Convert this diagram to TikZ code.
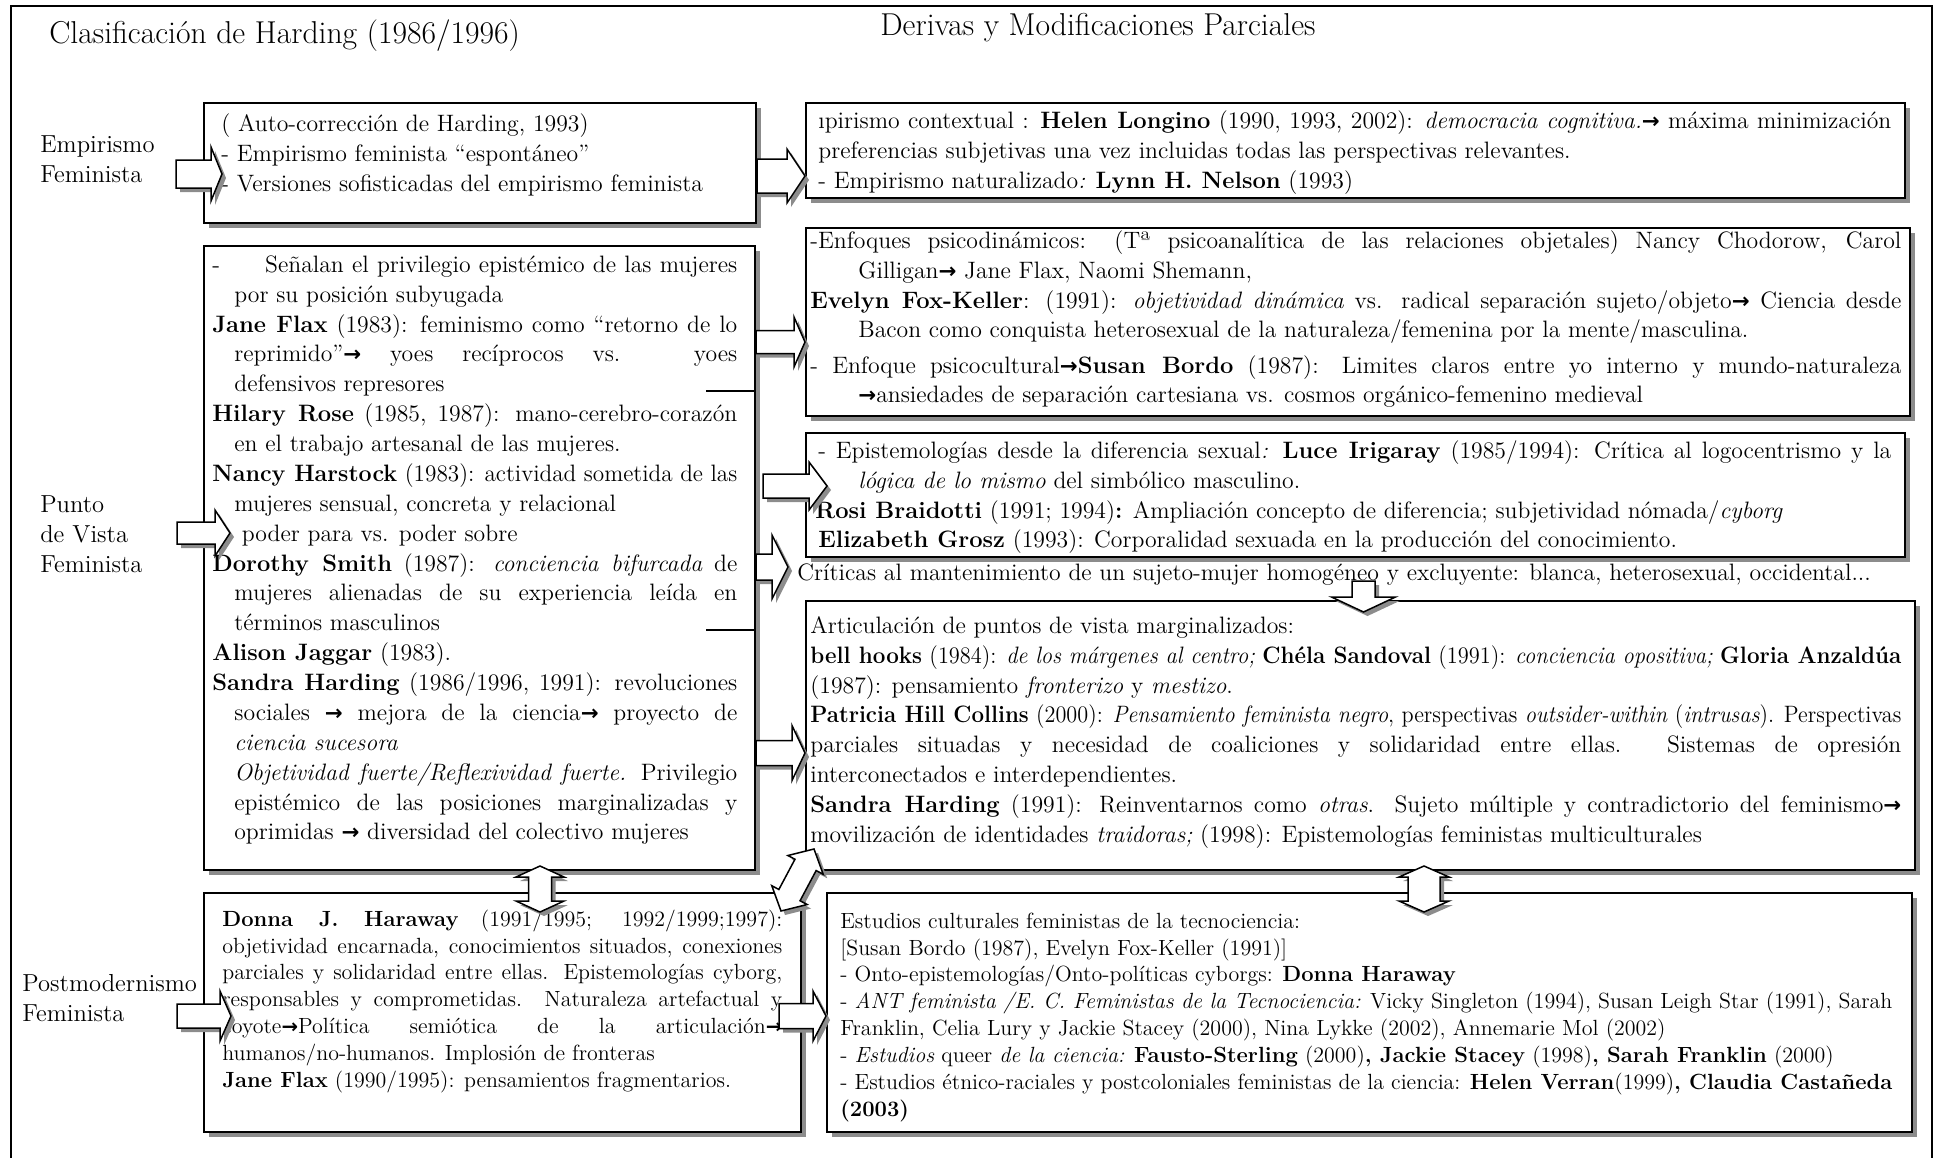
\documentclass[tikz,border=0pt]{standalone}
\usepackage{fontspec}
\usepackage{graphicx}
\newfontfamily\symf[Scale=0.9]{DejaVu Sans}
\usetikzlibrary{calc,fit,shadows}

\newlength{\hangw}
\newlength{\linew}
\newsavebox{\linebox}
\newcommand{\rarr}{{\symf\bfseries\char"2192}}
\newcommand{\fitline}[3]{%
  \sbox{\linebox}{#3}\linew=\hsize \advance\linew by -#1\relax
  \ifdim\wd\linebox>\linew
    \hbox to\hsize{\strut\kern#1\relax\resizebox{\linew}{\height}{\usebox{\linebox}}}%
  \else
    \hbox to\hsize{\strut\kern#1\relax#3#2}%
  \fi}
\newcommand{\jline}[1]{\fitline{0pt}{}{#1}}
\newcommand{\rline}[1]{\fitline{0pt}{\hfil}{#1}}
\newcommand{\jhang}[1]{\fitline{\hangw}{}{#1}}
\newcommand{\rhang}[1]{\fitline{\hangw}{\hfil}{#1}}
\newcommand{\textblock}[3]{\vtop{\hsize=#1\relax\setlength{\hangw}{#2}#3}}

\newcommand{\arrshape}[5]{($(#1)!#4!90:(#2)$) -- ($(#3)!#4!90:(#2)$) -- ($(#3)!#5!90:(#2)$) -- (#2) -- ($(#3)!#5!-90:(#2)$) -- ($(#3)!#4!-90:(#2)$) -- ($(#1)!#4!-90:(#2)$) -- cycle}
\newcommand{\dshape}[6]{(#1) -- ($(#3)!#6!90:(#2)$) -- ($(#3)!#5!90:(#2)$) -- ($(#4)!#5!-90:(#1)$) -- ($(#4)!#6!-90:(#1)$) -- (#2) -- ($(#4)!#6!90:(#1)$) -- ($(#4)!#5!90:(#1)$) -- ($(#3)!#5!-90:(#2)$) -- ($(#3)!#6!-90:(#2)$) -- cycle}
\newcommand{\sarrow}[5]{%
  \coordinate (ta) at #1; \coordinate (tb) at #2; \coordinate (tc) at ($(tb)!#5!(ta)$);
  \begin{scope}[transform canvas={shift={(0.8mm,-0.8mm)}}]\fill[arrshadow] \arrshape{ta}{tb}{tc}{#3}{#4};\end{scope}
  \draw[blockarrow] \arrshape{ta}{tb}{tc}{#3}{#4};}
\newcommand{\darrow}[5]{%
  \coordinate (da) at #1; \coordinate (db) at #2;
  \coordinate (dc) at ($(da)!#5!(db)$); \coordinate (dd) at ($(db)!#5!(da)$);
  \begin{scope}[transform canvas={shift={(0.8mm,-0.8mm)}}]\fill[arrshadow] \dshape{da}{db}{dc}{dd}{#3}{#4};\end{scope}
  \draw[blockarrow] \dshape{da}{db}{dc}{dd}{#3}{#4};}

\begin{document}
\begin{tikzpicture}[x=0.2mm, y=-0.2mm,
    box/.style={draw, line width=0.4mm, fill=white, inner sep=0pt, drop shadow={shadow xshift=1mm, shadow yshift=-1mm, fill=gray!90, opacity=1}},
    txt/.style={anchor=north west, inner sep=0pt, font=\fontsize{13.5}{17}\selectfont},
    smalltxt/.style={anchor=north west, inner sep=0pt, font=\fontsize{12.5}{15.3}\selectfont},
    lab/.style={anchor=west, align=left, inner sep=0pt, font=\fontsize{14}{17}\selectfont},
    heading/.style={anchor=west, inner sep=0pt, font=\fontsize{18}{21}\selectfont},
    blockarrow/.style={draw, line width=0.3mm, fill=white},
    arrshadow/.style={fill=gray!90},
]
    \useasboundingbox (0,0) rectangle (1939,1157);
    \draw[line width=0.4mm] (11,1180) -- (11,6) -- (1932,6) -- (1932,1180);

    \node[heading] (ttl) at (49,36) {Clasificación de Harding (1986/1996)};
    \node[heading] (ttr) at (880,28) {Derivas y Modificaciones Parciales};

    \node[lab] (empL) at (40,159) {Empirismo\\Feminista};
    \node[lab] (pvL) at (40,534) {Punto\\de Vista\\Feminista};
    \node[lab] (pmL) at (22,998) {Postmodernismo\\Feminista};

    \node[box, fit={(204,103) (756,223)}] (empA) {};
    \node[box, fit={(806,103) (1905,198)}] (empB) {};
    \node[box, fit={(204,246) (755,870)}] (pvA) {};
    \node[box, fit={(806,228) (1910,416)}] (pvC) {};
    \node[box, fit={(806,433) (1905,557)}] (pvD) {};
    \node[box, fit={(806,601) (1915,870)}] (pvE) {};
    \node[box, fit={(204,893) (801,1132)}] (pmG) {};
    \node[box, fit={(827,893) (1912,1132)}] (pmF) {};

    \node[txt] (empAt) at ($(empA.north west)+(18,8)$) {\textblock{104mm}{0mm}{%
      \rline{( Auto-corrección de Harding, 1993)}
      \rline{- Empirismo feminista “espontáneo”}
      \rline{- Versiones sofisticadas del empirismo feminista}}};

    \node[txt] (empBt) at ($(empB.north west)+(13,5)$) {\textblock{214.6mm}{0mm}{%
      \jline{ıpirismo contextual : \textbf{Helen Longino} (1990, 1993, 2002): \textit{democracia cognitiva.}\rarr{} máxima minimización}
      \rline{preferencias subjetivas una vez incluidas todas las perspectivas relevantes.}
      \rline{- Empirismo naturalizado\textit{:} \textbf{Lynn H. Nelson} (1993)}}};

    \node[txt] (pvAt) at ($(pvA.north west)+(9,6)$) {\textblock{105mm}{4.4mm}{%
      \jline{-\hspace{1.9em}Señalan el privilegio epistémico de las mujeres}
      \rhang{por su posición subyugada}
      \jline{\textbf{Jane Flax} (1983): feminismo como “retorno de lo}
      \jhang{reprimido”\rarr{} yoes recíprocos vs. yoes}
      \rhang{defensivos represores}
      \jline{\textbf{Hilary Rose} (1985, 1987): mano-cerebro-corazón}
      \rhang{en el trabajo artesanal de las mujeres.}
      \jline{\textbf{Nancy Harstock} (1983): actividad sometida de las}
      \rhang{mujeres sensual, concreta y relacional}
      \rhang{\kern1.5mm poder para vs. poder sobre}
      \jline{\textbf{Dorothy Smith} (1987): \textit{conciencia bifurcada} de}
      \jhang{mujeres alienadas de su experiencia leída en}
      \rhang{términos masculinos}
      \rline{\textbf{Alison Jaggar} (1983).}
      \jline{\textbf{Sandra Harding} (1986/1996, 1991): revoluciones}
      \jhang{sociales \rarr{} mejora de la ciencia\rarr{} proyecto de}
      \rhang{\textit{ciencia sucesora}}
      \jhang{\textit{Objetividad fuerte/Reflexividad fuerte.} Privilegio}
      \jhang{epistémico de las posiciones marginalizadas y}
      \rhang{oprimidas \rarr{} diversidad del colectivo mujeres}}};

    \node[txt] (pvCt) at ($(pvC.north west)+(5,0)$) {\textblock{218.2mm}{9.6mm}{%
      \jline{-Enfoques psicodinámicos: (Tª psicoanalítica de las relaciones objetales) Nancy Chodorow, Carol}
      \rhang{Gilligan\rarr{} Jane Flax, Naomi Shemann,}
      \jline{\textbf{Evelyn Fox-Keller}: (1991): \textit{objetividad dinámica} vs. radical separación sujeto/objeto\rarr{} Ciencia desde}
      \rhang{Bacon como conquista heterosexual de la naturaleza/femenina por la mente/masculina.}
      \vskip 3pt
      \jline{- Enfoque psicocultural\rarr\textbf{Susan Bordo} (1987): Limites claros entre yo interno y mundo-naturaleza}
      \rhang{\rarr ansiedades de separación cartesiana vs. cosmos orgánico-femenino medieval}}};

    \node[txt] (pvDt) at ($(pvD.north west)+(13,5)$) {\textblock{214.6mm}{8mm}{%
      \jline{- Epistemologías desde la diferencia sexual\textit{:} \textbf{Luce Irigaray} (1985/1994): Crítica al logocentrismo y la}
      \rhang{\textit{lógica de lo mismo} del simbólico masculino.}
      \rline{\kern-0.6mm\textbf{Rosi Braidotti} (1991; 1994)\textbf{:} Ampliación concepto de diferencia; subjetividad nómada/\textit{cyborg}}
      \rline{\textbf{Elizabeth Grosz} (1993): Corporalidad sexuada en la producción del conocimiento.}}};

    \node[txt, anchor=west] (crit) at (797,575) {Críticas al mantenimiento de un sujeto-mujer homogéneo y excluyente: blanca, heterosexual, occidental...};

    \node[txt] (pvEt) at ($(pvE.north west)+(5,12)$) {\textblock{218.2mm}{0mm}{%
      \rline{Articulación de puntos de vista marginalizados:}
      \jline{\textbf{bell hooks} (1984): \textit{de los márgenes al centro;} \textbf{Chéla Sandoval} (1991): \textit{conciencia opositiva;} \textbf{Gloria Anzaldúa}}
      \rline{(1987): pensamiento \textit{fronterizo} y \textit{mestizo}.}
      \jline{\textbf{Patricia Hill Collins} (2000): \textit{Pensamiento feminista negro}, perspectivas \textit{outsider-within} (\textit{intrusas}). Perspectivas}
      \jline{parciales situadas y necesidad de coaliciones y solidaridad entre ellas. Sistemas de opresión}
      \rline{interconectados e interdependientes.}
      \jline{\textbf{Sandra Harding} (1991): Reinventarnos como \textit{otras}. Sujeto múltiple y contradictorio del feminismo\rarr}
      \rline{movilización de identidades \textit{traidoras;} (1998): Epistemologías feministas multiculturales}}};

    \node[smalltxt] (pmGt) at ($(pmG.north west)+(19,15)$) {\textblock{112mm}{0mm}{%
      \jline{\textbf{Donna J. Haraway} (1991/1995; 1992/1999;1997):}
      \jline{objetividad encarnada, conocimientos situados, conexiones}
      \jline{parciales y solidaridad entre ellas. Epistemologías cyborg,}
      \jline{responsables y comprometidas. Naturaleza artefactual y}
      \jline{coyote\rarr Política semiótica de la articulación\rarr}
      \rline{humanos/no-humanos. Implosión de fronteras}
      \rline{\textbf{Jane Flax} (1990/1995): pensamientos fragmentarios.}}};

    \node[smalltxt] (pmFt) at ($(pmF.north west)+(14,17)$) {\textblock{210.4mm}{0mm}{%
      \rline{Estudios culturales feministas de la tecnociencia:}
      \rline{[Susan Bordo (1987), Evelyn Fox-Keller (1991)]}
      \rline{- Onto-epistemologías/Onto-políticas cyborgs: \textbf{Donna Haraway}}
      \jline{- \textit{ANT feminista /E. C. Feministas de la Tecnociencia:} Vicky Singleton (1994), Susan Leigh Star (1991), Sarah}
      \rline{Franklin, Celia Lury y Jackie Stacey (2000), Nina Lykke (2002), Annemarie Mol (2002)}
      \rline{- \textit{Estudios} queer \textit{de la ciencia:} \textbf{Fausto-Sterling} (2000)\textbf{, Jackie Stacey} (1998)\textbf{, Sarah Franklin} (2000)}
      \jline{- Estudios étnico-raciales y postcoloniales feministas de la ciencia: \textbf{Helen Verran}(1999)\textbf{, Claudia Castañeda}}
      \rline{\textbf{(2003)}}}};

    \draw[line width=0.3mm] (706,391) -- (pvA.east |- 0,391);
    \draw[line width=0.3mm] (706,630) -- (pvA.east |- 0,630);

    \sarrow{($(empA.west |- 0,174)+(-27,0)$)}{($(empA.west |- 0,174)+(19,0)$)}{2.8mm}{5.4mm}{2.2mm}
    \sarrow{($(pvA.west |- 0,533)+(-26,0)$)}{($(pvA.west |- 0,533)+(27,0)$)}{2.2mm}{4.6mm}{3mm}
    \sarrow{($(pmG.west |- 0,1016)+(-26,0)$)}{($(pmG.west |- 0,1016)+(28,0)$)}{2.4mm}{5mm}{2.2mm}
    \sarrow{(empA.east |- 0,176)}{(empB.west |- 0,176)}{3.4mm}{5.4mm}{3.6mm}
    \sarrow{(pvA.east |- 0,342)}{(pvC.west |- 0,342)}{2.3mm}{5mm}{2.2mm}
    \sarrow{($(pvA.east |- 0,486)+(7,0)$)}{($(pvD.west |- 0,486)+(22,0)$)}{2.4mm}{4.8mm}{3.6mm}
    \sarrow{(pvA.east |- 0,567)}{($(crit.west)+(-9,-8)$)}{2.6mm}{6.4mm}{3.2mm}
    \sarrow{($(pvE.north)+(3,-19)$)}{($(pvE.north)+(3,12)$)}{2.3mm}{6.4mm}{3mm}
    \sarrow{(pvA.east |- 0,753)}{(pvE.west |- 0,753)}{2.5mm}{5.5mm}{2.6mm}
    \sarrow{($(pmG.east |- 0,1016)+(-23,0)$)}{(pmF.west |- 0,1016)}{2.5mm}{5mm}{2.6mm}
    \darrow{($(pvA.south -| 540,0)+(0,-5)$)}{($(pmG.north -| 540,0)+(0,20)$)}{2.3mm}{4.8mm}{2.2mm}
    \darrow{($(pvE.south -| 1424,0)+(0,-5)$)}{($(pmF.north -| 1424,0)+(0,20)$)}{3.2mm}{5mm}{2.2mm}
    \darrow{($(pmG.north east)+(-21,19)$)}{($(pvE.south west)+(9,-22)$)}{2.4mm}{4mm}{3.6mm}
\end{tikzpicture}
\end{document}
